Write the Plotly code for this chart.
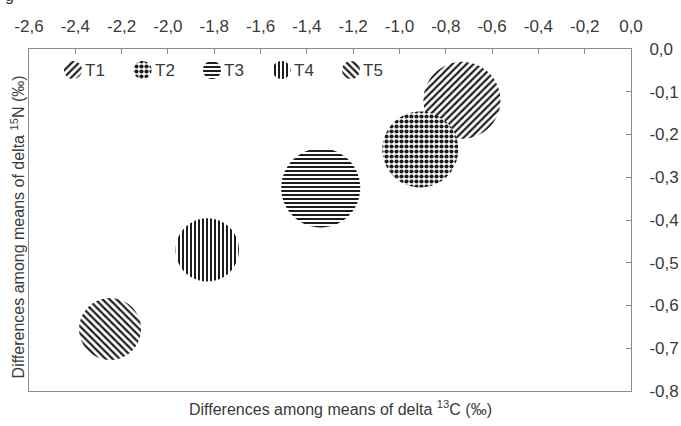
import numpy as np
import plotly.graph_objects as go

# Treatment means (differences of delta 13C / delta 15N, per mil) and bubble sizes
treatments = ["T1", "T2", "T3", "T4", "T5"]
delta13c = [-0.73, -0.91, -1.34, -1.83, -2.25]
delta15n = [-0.12, -0.235, -0.325, -0.47, -0.655]
bubble_size = [3.7, 3.6, 3.9, 2.5, 2.4]

x_tickvals = [-2.6, -2.4, -2.2, -2.0, -1.8, -1.6, -1.4, -1.2, -1.0, -0.8, -0.6, -0.4, -0.2, 0.0]
x_ticktext = ["-2,6", "-2,4", "-2,2", "-2,0", "-1,8", "-1,6", "-1,4", "-1,2",
              "-1,0", "-0,8", "-0,6", "-0,4", "-0,2", "0,0"]
y_tickvals = [0.0, -0.1, -0.2, -0.3, -0.4, -0.5, -0.6, -0.7, -0.8]
y_ticktext = ["0,0", "-0,1", "-0,2", "-0,3", "-0,4", "-0,5", "-0,6", "-0,7", "-0,8"]

# Canvas and plot-area geometry
W, H = 681, 426
MARGIN = dict(l=29, r=50, t=49, b=35, pad=0)
X_RANGE = [-2.6, 0.0]
Y_RANGE = [-0.8, 0.0]
plot_w = W - MARGIN["l"] - MARGIN["r"]
plot_h = H - MARGIN["t"] - MARGIN["b"]
px_per_x = plot_w / (X_RANGE[1] - X_RANGE[0])
px_per_y = plot_h / (Y_RANGE[1] - Y_RANGE[0])
BUBBLE_SCALE = 20.0  # radius in px per sqrt(size unit)

# Legend layout, in pixels from the plot area's top-left corner
LEG_X0, LEG_STEP, LEG_Y, LEG_R, LEG_GAP = 44, 69.5, 21, 9, 10

INK = "#1e1e1e"
TEXT = "#3a3a3a"
FRAME = "#8c8c8c"
FONT = "Liberation Sans, Arial, sans-serif"

patterns = {
    "T1": dict(shape="/", size=5, solidity=0.45),
    "T2": dict(shape=".", size=5, solidity=0.55),
    "T3": dict(shape="-", size=4, solidity=0.5),
    "T4": dict(shape="|", size=4, solidity=0.5),
    "T5": dict(shape="\\", size=5, solidity=0.45),
}

theta = np.linspace(0, 2 * np.pi, 181)
fig = go.Figure()
annotations = []
for i, (name, cx, cy, s) in enumerate(zip(treatments, delta13c, delta15n, bubble_size)):
    pat = dict(**patterns[name], fgcolor=INK, bgcolor="white", fgopacity=1)
    r_px = BUBBLE_SCALE * np.sqrt(s)
    fig.add_trace(go.Scatter(
        x=cx + (r_px / px_per_x) * np.cos(theta),
        y=cy + (r_px / px_per_y) * np.sin(theta),
        mode="none", fill="toself", name=name, fillcolor="white",
        fillpattern=pat, hoverinfo="name", showlegend=False,
    ))
    # legend key: small patterned disc plus label, on a pixel-unit overlay axis
    lx = LEG_X0 + i * LEG_STEP
    fig.add_trace(go.Scatter(
        x=lx + LEG_R * np.cos(theta), y=LEG_Y + LEG_R * np.sin(theta),
        xaxis="x2", yaxis="y2", mode="none", fill="toself", fillcolor="white",
        fillpattern=pat, hoverinfo="skip", showlegend=False,
    ))
    annotations.append(dict(text=name, xref="x2", yref="y2", x=lx + LEG_GAP, y=LEG_Y,
                            xanchor="left", yanchor="middle", showarrow=False,
                            font=dict(family=FONT, size=17, color=TEXT)))

axis_common = dict(
    showgrid=False, zeroline=False, showline=True, linecolor=FRAME, linewidth=1,
    mirror=True, ticks="inside", ticklen=5, tickwidth=1, tickcolor=FRAME,
    tickfont=dict(family=FONT, size=17, color=TEXT), automargin=False,
)

annotations += [
    dict(text="Differences among means of delta <sup>13</sup>C (‰)",
         xref="paper", yref="paper", x=0.518, y=-0.05,
         xanchor="center", yanchor="middle", showarrow=False,
         font=dict(family=FONT, size=16, color=TEXT)),
    dict(text="Differences among means of delta <sup>15</sup>N (‰)",
         xref="paper", yref="paper", x=-0.019, y=0.48, textangle=-90,
         xanchor="center", yanchor="middle", showarrow=False,
         font=dict(family=FONT, size=16, color=TEXT)),
    dict(text="g", xref="paper", yref="paper", x=-0.032, y=1.126,
         xanchor="center", yanchor="bottom", showarrow=False,
         font=dict(family=FONT, size=16, color=TEXT)),
]

fig.update_layout(
    width=W, height=H, margin=MARGIN,
    paper_bgcolor="white", plot_bgcolor="white",
    font=dict(family=FONT, size=16, color=TEXT),
    xaxis=dict(range=X_RANGE, side="top", tickmode="array",
               tickvals=x_tickvals, ticktext=x_ticktext,
               ticklabelstandoff=9, **axis_common),
    yaxis=dict(range=Y_RANGE, side="right", tickmode="array",
               tickvals=y_tickvals, ticktext=y_ticktext,
               ticklabelstandoff=14, **axis_common),
    xaxis2=dict(range=[0, plot_w], overlaying="x", visible=False, fixedrange=True),
    yaxis2=dict(range=[plot_h, 0], overlaying="y", visible=False, fixedrange=True),
    showlegend=False,
    annotations=annotations,
)

fig.write_html("out.html")
